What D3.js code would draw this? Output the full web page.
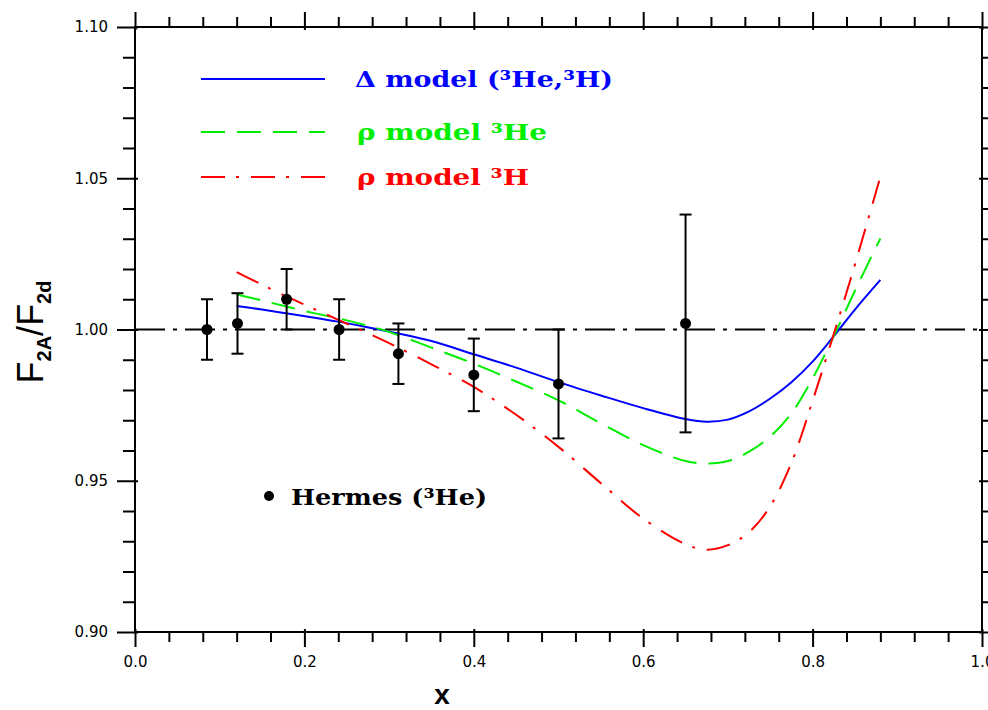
<!DOCTYPE html>
<html>
<head>
<meta charset="utf-8">
<script src="https://cdn.jsdelivr.net/npm/d3@7"></script>
<style>
  html, body { margin: 0; padding: 0; background: #ffffff; }
  svg { display: block; }
</style>
</head>
<body>
<svg id="chart" width="988" height="710"></svg>
<script>
// Axis ticks
const xMajor = [0.0, 0.2, 0.4, 0.6, 0.8, 1.0];
const xMinor = [0.04, 0.08, 0.12, 0.16, 0.24, 0.28, 0.32, 0.36, 0.44, 0.48, 0.52, 0.56,
                0.64, 0.68, 0.72, 0.76, 0.84, 0.88, 0.92, 0.96];
const yMajor = [0.90, 0.95, 1.00, 1.05, 1.10];
const yMinor = [0.91, 0.92, 0.93, 0.94, 0.96, 0.97, 0.98, 0.99,
                1.01, 1.02, 1.03, 1.04, 1.06, 1.07, 1.08, 1.09];

// HERMES 3He data
const hermesX   = [0.085, 0.121, 0.179, 0.241, 0.311, 0.400, 0.500, 0.650];
const hermesY   = [1.000, 1.002, 1.010, 1.000, 0.992, 0.985, 0.982, 1.002];
const hermesErr = [0.010, 0.010, 0.010, 0.010, 0.010, 0.012, 0.018, 0.036];

// Model curves
const curveX   = [0.12, 0.15, 0.18, 0.21, 0.24, 0.27, 0.30, 0.35, 0.40, 0.45, 0.50, 0.55,
                  0.60, 0.65, 0.675, 0.70, 0.725, 0.75, 0.775, 0.80, 0.825, 0.85, 0.88];
const deltaModel = [1.0078, 1.0066, 1.0053, 1.0040, 1.0026, 1.0010, 0.9993, 0.9962, 0.9918, 0.9874, 0.9826, 0.9782,
                    0.9740, 0.9704, 0.9695, 0.9702, 0.9729, 0.9772, 0.9826, 0.9894, 0.9978, 1.0066, 1.0164];
const rhoModelHe = [1.0116, 1.0096, 1.0075, 1.0055, 1.0037, 1.0016, 0.9992, 0.9940, 0.9887, 0.9828, 0.9766, 0.9690,
                    0.9618, 0.9565, 0.9557, 0.9565, 0.9596, 0.9646, 0.9723, 0.9838, 0.9978, 1.0128, 1.0301];
const rhoModelH  = [1.0190, 1.0148, 1.0108, 1.0070, 1.0032, 0.9994, 0.9955, 0.9885, 0.9810, 0.9718, 0.9612, 0.9492,
                    0.9375, 0.9290, 0.9272, 0.9287, 0.9330, 0.9416, 0.9559, 0.9764, 0.9985, 1.0215, 1.0505];

const svg = d3.select("#chart");
const plotLeft = 135, plotRight = 982, plotTop = 27, plotBottom = 632;

const x = d3.scaleLinear().domain([0, 1]).range([plotLeft, plotRight]);
const y = d3.scaleLinear().domain([0.9, 1.1]).range([plotBottom, plotTop]);

const tickFont = "'DejaVu Sans', sans-serif";

// ---- axes ----
function styleAxis(g) {
  g.select(".domain").remove();
  g.selectAll(".tick line").attr("stroke", "#000").attr("stroke-width", 2);
  g.selectAll(".tick text").attr("fill", "#000").attr("font-family", tickFont).attr("font-size", 15);
}

// left
svg.append("g").attr("transform", `translate(${plotLeft},0)`)
  .call(d3.axisLeft(y).tickValues(yMinor).tickSize(12).tickFormat(""))
  .call(styleAxis);
svg.append("g").attr("transform", `translate(${plotLeft},0)`)
  .call(d3.axisLeft(y).tickValues(yMajor).tickSize(18).tickPadding(9).tickFormat(d3.format(".2f")))
  .call(styleAxis)
  .call(g => g.selectAll(".tick line").attr("x1", 3));

// right
svg.append("g").attr("transform", `translate(${plotRight},0)`)
  .call(d3.axisRight(y).tickValues(yMinor).tickSize(12).tickFormat(""))
  .call(styleAxis);
svg.append("g").attr("transform", `translate(${plotRight},0)`)
  .call(d3.axisRight(y).tickValues(yMajor).tickSize(18).tickFormat(""))
  .call(styleAxis)
  .call(g => g.selectAll(".tick line").attr("x1", -3));

// bottom
svg.append("g").attr("transform", `translate(0,${plotBottom})`)
  .call(d3.axisBottom(x).tickValues(xMinor).tickSize(10).tickFormat(""))
  .call(styleAxis);
svg.append("g").attr("transform", `translate(0,${plotBottom})`)
  .call(d3.axisBottom(x).tickValues(xMajor).tickSize(15).tickPadding(9).tickFormat(d3.format(".1f")))
  .call(styleAxis)
  .call(g => g.selectAll(".tick line").attr("y1", -3));

// top
svg.append("g").attr("transform", `translate(0,${plotTop})`)
  .call(d3.axisTop(x).tickValues(xMinor).tickSize(10).tickFormat(""))
  .call(styleAxis);
svg.append("g").attr("transform", `translate(0,${plotTop})`)
  .call(d3.axisTop(x).tickValues(xMajor).tickSize(15).tickFormat(""))
  .call(styleAxis)
  .call(g => g.selectAll(".tick line").attr("y1", 3));

// frame
svg.append("rect")
  .attr("x", plotLeft).attr("y", plotTop)
  .attr("width", plotRight - plotLeft).attr("height", plotBottom - plotTop)
  .attr("fill", "none").attr("stroke", "#000").attr("stroke-width", 2);

// reference line at unity
svg.append("line")
  .attr("x1", x(0)).attr("x2", x(1))
  .attr("y1", y(1.0)).attr("y2", y(1.0))
  .attr("stroke", "#000").attr("stroke-width", 2)
  .attr("stroke-dasharray", "30,8,4,8");

// ---- model curves ----
const line = d3.line()
  .x(d => x(d[0]))
  .y(d => y(d[1]))
  .curve(d3.curveCatmullRom.alpha(0.5));

const series = [
  { values: deltaModel, color: "#0000ff", dash: null },
  { values: rhoModelHe, color: "#00ee00", dash: "24,12" },
  { values: rhoModelH,  color: "#ff0000", dash: "24,11,3,12" }
];

series.forEach(s => {
  svg.append("path")
    .datum(curveX.map((cx, i) => [cx, s.values[i]]))
    .attr("d", line)
    .attr("fill", "none")
    .attr("stroke", s.color)
    .attr("stroke-width", 2)
    .attr("stroke-dasharray", s.dash);
});

// ---- HERMES points ----
const pts = svg.append("g");
hermesX.forEach((hx, i) => {
  const cx = x(hx), lo = y(hermesY[i] - hermesErr[i]), hi = y(hermesY[i] + hermesErr[i]);
  pts.append("line").attr("x1", cx).attr("x2", cx).attr("y1", lo).attr("y2", hi)
    .attr("stroke", "#000").attr("stroke-width", 2);
  [lo, hi].forEach(cy => pts.append("line")
    .attr("x1", cx - 6).attr("x2", cx + 6).attr("y1", cy).attr("y2", cy)
    .attr("stroke", "#000").attr("stroke-width", 2));
  pts.append("circle").attr("cx", cx).attr("cy", y(hermesY[i])).attr("r", 5.5).attr("fill", "#000");
});

// ---- legend ----
const legendFont = "'DejaVu Serif', 'Liberation Serif', serif";
const legend = [
  { label: "Δ model (³He,³H)", color: "#0000ff", dash: null, ly: 79, tx: 355, len: 258 },
  { label: "ρ model ³He",      color: "#00ee00", dash: "24,12", ly: 132, tx: 357, len: 190 },
  { label: "ρ model ³H",       color: "#ff0000", dash: "24,11,3,12", ly: 177, tx: 357, len: 172 }
];
legend.forEach(l => {
  svg.append("line")
    .attr("x1", 201).attr("x2", 325).attr("y1", l.ly).attr("y2", l.ly)
    .attr("stroke", l.color).attr("stroke-width", 2)
    .attr("stroke-dasharray", l.dash);
  svg.append("text")
    .attr("x", l.tx).attr("y", l.ly + 8)
    .attr("font-family", legendFont).attr("font-weight", "bold").attr("font-size", 22)
    .attr("fill", l.color)
    .attr("textLength", l.len).attr("lengthAdjust", "spacingAndGlyphs")
    .text(l.label);
});

svg.append("circle").attr("cx", 269).attr("cy", 496).attr("r", 5).attr("fill", "#000");
svg.append("text")
  .attr("x", 291).attr("y", 505)
  .attr("font-family", legendFont).attr("font-weight", "bold").attr("font-size", 22)
  .attr("fill", "#000")
  .attr("textLength", 196).attr("lengthAdjust", "spacingAndGlyphs")
  .text("Hermes (³He)");

// ---- axis titles ----
svg.append("text")
  .attr("x", 442).attr("y", 704)
  .attr("text-anchor", "middle")
  .attr("font-family", "'Liberation Sans', Arial, sans-serif")
  .attr("font-weight", "bold").attr("font-size", 28)
  .text("x");

const yTitle = svg.append("text")
  .attr("transform", "translate(43,332) rotate(-90)")
  .attr("text-anchor", "middle")
  .attr("font-family", "'Liberation Sans', Arial, sans-serif")
  .attr("font-size", 36);
yTitle.append("tspan").text("F");
yTitle.append("tspan").attr("font-size", 20).attr("font-weight", "bold").attr("dy", 8).text("2A");
yTitle.append("tspan").attr("dy", -8).text("/F");
yTitle.append("tspan").attr("font-size", 20).attr("font-weight", "bold").attr("dy", 8).text("2d");
</script>
</body>
</html>
